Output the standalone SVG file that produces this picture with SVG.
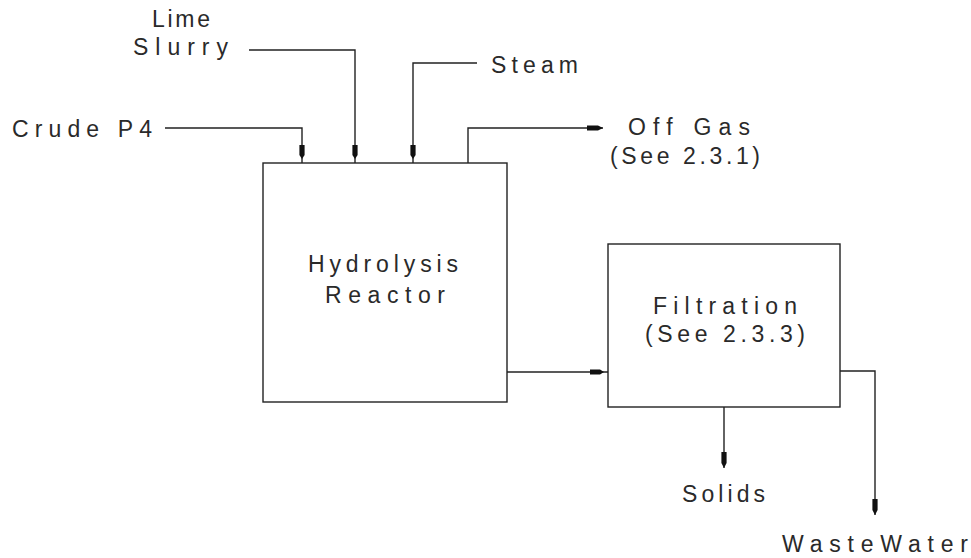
<svg xmlns="http://www.w3.org/2000/svg" width="971" height="558" viewBox="0 0 971 558">
<style>
.t{font-family:"Liberation Sans",Arial,sans-serif;font-size:23px;fill:#2a2a2a}
.box{fill:#fff;stroke:#222;stroke-width:1.4}
.ln{fill:none;stroke:#222;stroke-width:1.4}
</style>
<defs>
<marker id="arr" markerUnits="userSpaceOnUse" markerWidth="20" markerHeight="10" viewBox="-17 -5 20 10" refX="0" refY="0" orient="auto" overflow="visible">
<path d="M-16,-2.6 L-5,-2.6 L0,0 L-5,2.6 L-16,2.6 Z" fill="#111"/>
</marker>
<marker id="arrIn" markerUnits="userSpaceOnUse" markerWidth="24" markerHeight="10" viewBox="-22 -5 24 10" refX="0" refY="0" orient="auto" overflow="visible">
<path d="M-18,-2.6 L-8,-2.6 L-4,0 L-8,2.6 L-18,2.6 Z" fill="#111"/>
</marker>
</defs>
<rect width="971" height="558" fill="#fff"/>
<g id="connectors">
<polyline class="ln" points="165,128 302,128 302,163" marker-end="url(#arrIn)"/>
<polyline class="ln" points="249,50 355,50 355,163" marker-end="url(#arrIn)"/>
<polyline class="ln" points="477,63 413,63 413,163" marker-end="url(#arrIn)"/>
<polyline class="ln" points="468,163 468,128 603,128" marker-end="url(#arr)"/>
<polyline class="ln" points="507,372 608,372" marker-end="url(#arrIn)"/>
<polyline class="ln" points="724,407 724,468" marker-end="url(#arr)"/>
<polyline class="ln" points="840,371 875,371 875,515" marker-end="url(#arr)"/>
</g>
<g id="reactor">
<rect class="box" x="263" y="163" width="244" height="239"/>
<text class="t" x="308" y="272" textLength="150">Hydrolysis</text>
<text class="t" x="325" y="303" textLength="120">Reactor</text>
</g>
<g id="filtration">
<rect class="box" x="608" y="244" width="232" height="163"/>
<text class="t" x="653" y="314" textLength="144">Filtration</text>
<text class="t" x="645" y="342" textLength="160">(See 2.3.3)</text>
</g>
<g id="lime">
<text class="t" x="152" y="27" textLength="58">Lime</text>
<text class="t" x="133" y="55" textLength="95">Slurry</text>
</g>
<g id="crude"><text class="t" x="12" y="137" textLength="140">Crude P4</text></g>
<g id="steam"><text class="t" x="491" y="73" textLength="87">Steam</text></g>
<g id="offgas">
<text class="t" x="628" y="135" textLength="122">Off Gas</text>
<text class="t" x="610" y="164" textLength="150">(See 2.3.1)</text>
</g>
<g id="solids"><text class="t" x="682" y="502" textLength="83">Solids</text></g>
<g id="wastewater"><text class="t" x="782" y="552" textLength="186">WasteWater</text></g>
</svg>
